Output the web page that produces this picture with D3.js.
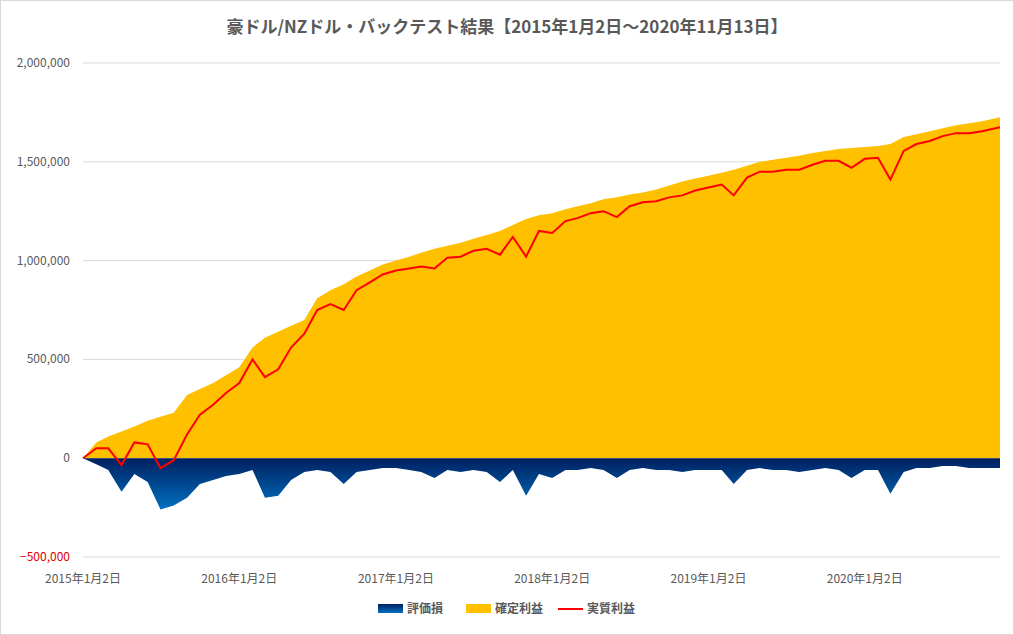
<!DOCTYPE html>
<html><head><meta charset="utf-8">
<script src="https://cdn.jsdelivr.net/npm/d3@7"></script>
<style>body{margin:0;background:#fff;font-family:"Noto Sans CJK JP","Noto Sans",sans-serif;}</style>
</head><body><svg id="c" width="1014" height="635"></svg>
<script>
const startDate="2015-01-02", endDate="2020-11-13";
const confirmed=[0,80,110,135,160,190,210,230,320,350,380,420,
460,560,610,640,670,700,810,850,880,920,950,980,
1000,1020,1040,1060,1075,1090,1110,1130,1150,1180,1210,1230,
1240,1260,1275,1290,1310,1320,1335,1345,1360,1380,1400,1415,
1430,1445,1460,1480,1500,1510,1520,1530,1545,1555,1565,1570,
1575,1580,1590,1625,1640,1655,1670,1685,1695,1705,1725].map(v=>v*1000);
const loss=[0,-30,-60,-170,-80,-120,-260,-240,-200,-130,-110,-90,
-80,-60,-200,-190,-110,-70,-60,-70,-130,-70,-60,-50,
-50,-60,-70,-100,-60,-70,-60,-70,-120,-60,-190,-80,
-100,-60,-60,-50,-60,-100,-60,-50,-60,-60,-70,-60,
-60,-60,-130,-60,-50,-60,-60,-70,-60,-50,-60,-100,
-60,-60,-180,-70,-50,-50,-40,-40,-50,-50,-50].map(v=>v*1000);
const yTicks=[-500000,0,500000,1000000,1500000,2000000];
const xTickLabels=["2015年1月2日","2016年1月2日","2017年1月2日","2018年1月2日","2019年1月2日","2020年1月2日"];
const xTickDates=["2015-01-02","2016-01-02","2017-01-02","2018-01-02","2019-01-02","2020-01-02"];
const legendNames=["評価損","確定利益","実質利益"];

const p=d3.timeParse("%Y-%m-%d");
const dates=confirmed.map((_,i)=> i===0?p(startDate): i===confirmed.length-1?p(endDate): new Date(2015,i,2));
const data=dates.map((d,i)=>({d,c:confirmed[i],l:loss[i],r:confirmed[i]+loss[i]}));

const svg=d3.select("#c");
svg.append("rect").attr("x",0.5).attr("y",0.5).attr("width",1013).attr("height",634).attr("fill","#fff").attr("stroke","#d9d9d9");
const x=d3.scaleTime().domain([p(startDate),p(endDate)]).range([83,1000]);
const y=d3.scaleLinear().domain([-500000,2000000]).range([557,63]);

svg.append("g").selectAll("line").data(yTicks).join("line")
 .attr("x1",83).attr("x2",1000).attr("y1",d=>y(d)).attr("y2",d=>y(d)).attr("stroke","#d9d9d9");
svg.append("g").selectAll("text").data(yTicks).join("text")
 .attr("x",70).attr("y",d=>y(d)+4).attr("text-anchor","end").attr("font-size",12)
 .attr("fill",d=>d<0?"#e00000":"#595959").text(d=>d3.format(",")(d));

const grad=svg.append("defs").append("linearGradient").attr("id","g").attr("x1",0).attr("x2",0).attr("y1",0).attr("y2",1);
grad.append("stop").attr("offset","0%").attr("stop-color","#002060");
grad.append("stop").attr("offset","100%").attr("stop-color","#0070c0");

svg.append("path").datum(data).attr("fill","#ffc000")
 .attr("d",d3.area().x(d=>x(d.d)).y0(y(0)).y1(d=>y(d.c)));
svg.append("path").datum(data).attr("fill","url(#g)")
 .attr("d",d3.area().x(d=>x(d.d)).y0(y(0)).y1(d=>y(d.l)));
svg.append("path").datum(data).attr("fill","none").attr("stroke","#ff0000").attr("stroke-width",2)
 .attr("d",d3.line().x(d=>x(d.d)).y(d=>y(d.r)));

svg.append("g").selectAll("text").data(xTickDates).join("text")
 .attr("x",d=>x(p(d))).attr("y",583).attr("text-anchor","middle").attr("font-size",12).attr("fill","#595959")
 .text((d,i)=>xTickLabels[i]);

svg.append("text").attr("x",507).attr("y",33).attr("text-anchor","middle").attr("font-size",17).attr("font-weight","bold")
 .attr("fill","#595959").text("豪ドル/NZドル・バックテスト結果【2015年1月2日～2020年11月13日】");

const lg=svg.append("g");
const lx=[378,466,558];
lg.append("rect").attr("x",lx[0]).attr("y",604).attr("width",25).attr("height",9).attr("fill","url(#g)");
lg.append("rect").attr("x",lx[1]).attr("y",604).attr("width",25).attr("height",9).attr("fill","#ffc000");
lg.append("line").attr("x1",lx[2]).attr("x2",lx[2]+25).attr("y1",609).attr("y2",609).attr("stroke","#ff0000").attr("stroke-width",2);
legendNames.forEach((n,i)=>lg.append("text").attr("x",lx[i]+29).attr("y",613).attr("font-size",12).attr("font-weight","bold").attr("fill","#595959").text(n));
</script></body></html>
